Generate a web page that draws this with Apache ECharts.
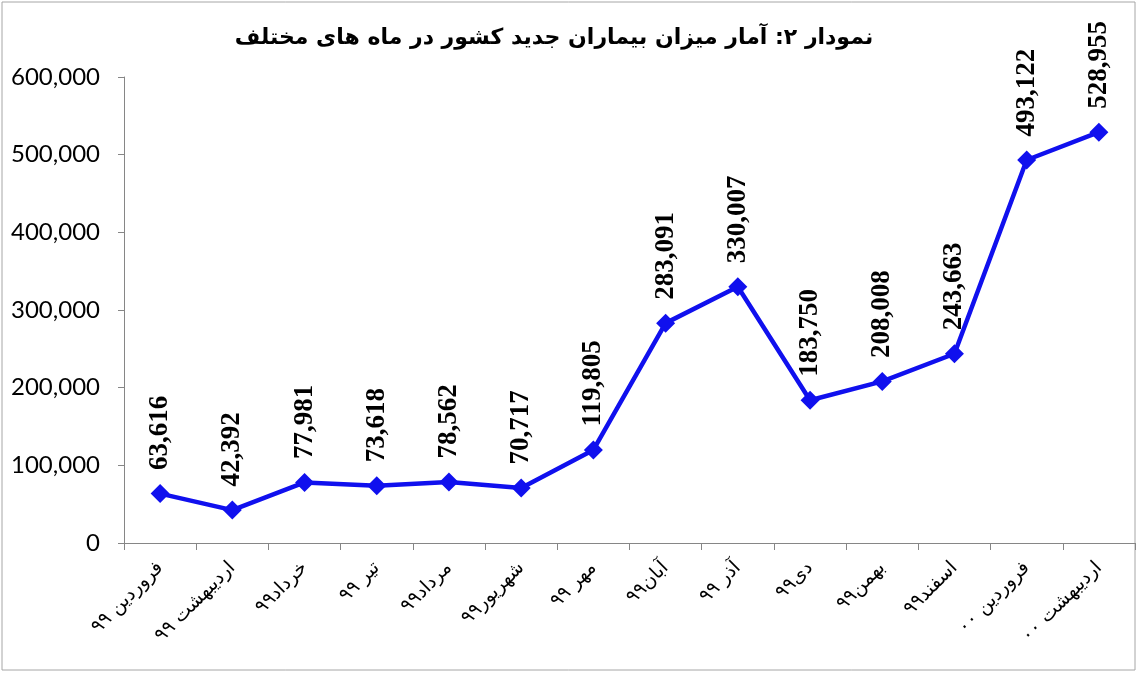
<!DOCTYPE html>
<html>
<head>
<meta charset="utf-8">
<script src="https://cdn.jsdelivr.net/npm/echarts@6/dist/echarts.min.js"></script>
<style>
  html, body { margin: 0; padding: 0; background: #fff; }
  #chart { width: 1138px; height: 673px; }
</style>
</head>
<body>
<div id="chart"></div>
<script>
const months = [
  "فروردین ۹۹", "اردیبهشت ۹۹", "خرداد۹۹", "تیر ۹۹", "مرداد۹۹", "شهریور۹۹", "مهر ۹۹",
  "آبان۹۹", "آذر ۹۹", "دی۹۹", "بهمن۹۹", "اسفند۹۹", "فروردین ۰۰", "اردیبهشت ۰۰"
];
const newCases = [63616, 42392, 77981, 73618, 78562, 70717, 119805, 283091, 330007, 183750, 208008, 243663, 493122, 528955];
const yTicks = [0, 100000, 200000, 300000, 400000, 500000, 600000];

const chart = echarts.init(document.getElementById("chart"));
const fmt = v => v.toLocaleString("en-US");

chart.setOption({
  animation: false,
  title: {
    text: "نمودار ۲: آمار میزان بیماران جدید کشور در ماه های مختلف",
    left: 549,
    top: 22,
    textAlign: "center",
    textStyle: { fontFamily: "DejaVu Sans", fontSize: 22, fontWeight: "bold", color: "#000" }
  },
  graphic: [{
    type: "rect",
    shape: { x: 2, y: 2, width: 1133, height: 668 },
    style: { fill: "none", stroke: "#a6a6a6", lineWidth: 1 },
    silent: true
  }],
  grid: { left: 124, right: 3, top: 77, bottom: 130 },
  xAxis: {
    type: "category",
    data: months,
    boundaryGap: true,
    axisLine: { lineStyle: { color: "#868686", width: 1 } },
    axisTick: { show: true, length: 7, lineStyle: { color: "#868686" } },
    axisLabel: {
      rotate: 45,
      interval: 0,
      margin: 22,
      fontFamily: "DejaVu Sans",
      fontSize: 19,
      color: "#000"
    }
  },
  yAxis: {
    type: "value",
    min: yTicks[0],
    max: yTicks[yTicks.length - 1],
    interval: 100000,
    axisLine: { show: true, lineStyle: { color: "#868686", width: 1 } },
    axisTick: { show: true, length: 6, lineStyle: { color: "#868686" } },
    splitLine: { show: false },
    axisLabel: {
      margin: 24,
      fontFamily: "Lato",
      fontSize: 24,
      color: "#000",
      formatter: v => fmt(v)
    }
  },
  series: [{
    type: "line",
    data: newCases,
    symbol: "diamond",
    symbolSize: 19,
    lineStyle: { color: "#1010ee", width: 4.5 },
    itemStyle: { color: "#1010ee" },
    label: {
      show: true,
      position: "top",
      rotate: 90,
      align: "left",
      verticalAlign: "middle",
      distance: 14,
      fontFamily: "Liberation Serif",
      fontWeight: "bold",
      fontSize: 27,
      color: "#000",
      formatter: p => fmt(p.value)
    }
  }]
});
</script>
</body>
</html>
